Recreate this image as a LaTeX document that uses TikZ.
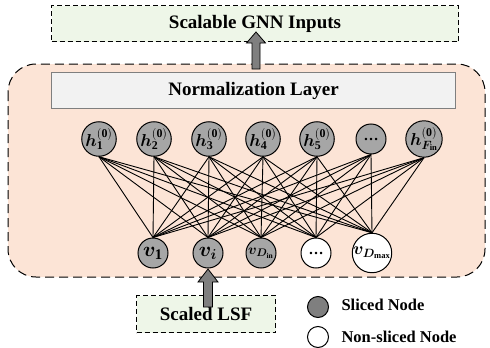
\documentclass[tikz,border=0pt]{standalone}
\usepackage{fontspec}
\usepackage{bm}
\setmainfont{Liberation Serif}
\definecolor{peach}{HTML}{FCE4D6}
\definecolor{mint}{HTML}{EEF6E8}
\definecolor{panel}{HTML}{F2F2F2}
\definecolor{nodegray}{HTML}{A6A6A6}
\definecolor{darkgray}{HTML}{7F7F7F}
\tikzset{
  dashbox/.style={draw=black, dashed, dash pattern=on 5pt off 3pt, line width=1pt, fill=mint},
  neuron/.style={circle, draw=black, line width=1pt, minimum size=30pt, inner sep=0pt,
    fill=nodegray, font=\fontsize{17}{18}\selectfont},
  emptyneuron/.style={neuron, fill=white},
  link/.style={line width=0.9pt},
  blockarrow/.style={draw=black, line width=0.8pt, fill=darkgray},
  lbl/.style={font=\bfseries\fontsize{19}{21}\selectfont},
  legendlbl/.style={anchor=west, font=\bfseries\fontsize{16.5}{18}\selectfont},
}
\begin{document}
\begin{tikzpicture}[x=1pt, y=-1pt]
\useasboundingbox (0,0) rectangle (490,348);
% outer frame
\draw[dashed, dash pattern=on 9pt off 5pt, line width=1pt, fill=peach, rounded corners=28pt]
  (8,64) rectangle (485,277);
% top output box
\node[dashbox, minimum width=407pt, minimum height=36pt, anchor=north west, lbl]
  (out) at (51,5) {Scalable GNN Inputs};
% normalization layer
\node[draw=darkgray, line width=1pt, fill=panel, minimum width=404pt, minimum height=36pt,
  anchor=north west, lbl] (norm) at (51,72) {Normalization Layer};
% feature nodes
\node[neuron] (h1) at (99,139) {$\bm{h}^{(\mathbf{0})}_{\mathbf{1}}$};
\node[neuron] (h2) at (154,139) {$\bm{h}^{(\mathbf{0})}_{\mathbf{2}}$};
\node[neuron] (h3) at (209,139) {$\bm{h}^{(\mathbf{0})}_{\mathbf{3}}$};
\node[neuron] (h4) at (263,139) {$\bm{h}^{(\mathbf{0})}_{\mathbf{4}}$};
\node[neuron] (h5) at (317,139) {$\bm{h}^{(\mathbf{0})}_{\mathbf{5}}$};
\node[neuron] (h6) at (371,139) {\bfseries\fontsize{15}{16}\selectfont\dots};
\node[neuron] (h7) at (424,139) {$\bm{h}^{(\mathbf{0})}_{\bm{F}_{\mathbf{in}}}$};
% sliced / non-sliced nodes
\node[neuron] (v1) at (153,253) {\fontsize{21}{22}\selectfont$\bm{v}_{\mathbf{1}}$};
\node[neuron] (v2) at (208,253) {\fontsize{21}{22}\selectfont$\bm{v}_{\bm{i}}$};
\node[neuron] (v3) at (261,253) {\fontsize{15}{16}\selectfont$\bm{v}_{\bm{D}_{\mathbf{in}}}$};
\node[emptyneuron] (v4) at (316,253) {\bfseries\fontsize{15}{16}\selectfont\dots};
\node[emptyneuron] (v5) at (372,253) {\fontsize{17}{18}\selectfont$\bm{v}_{\bm{D}_{\mathbf{max}}}$};
% full bipartite connections
\foreach \a in {1,...,7}
  \foreach \b in {1,...,5}
    \draw[link] (h\a.south) -- (v\b.north);
% input box
\node[dashbox, minimum width=139pt, minimum height=37pt, anchor=north west, lbl]
  (lsf) at (136,295) {Scaled LSF};
% block arrows (tail point of each)
\coordinate (a1) at (256,69);
\coordinate (a2) at (208,307);
\draw[blockarrow, shift={(a1)}]
  (-4,0) -- (-4,-26) -- (-9.5,-26) -- (0,-37) -- (9.5,-26) -- (4,-26) -- (4,0) -- cycle;
\draw[blockarrow, shift={(a2)}]
  (-4.5,0) -- (-4.5,-25) -- (-10,-25) -- (0,-38) -- (10,-25) -- (4.5,-25) -- (4.5,0) -- cycle;
% legend
\node[neuron, fill=darkgray, minimum size=21pt] (ls) at (318,307) {};
\node[legendlbl] (lst) at (338,305) {Sliced Node};
\node[emptyneuron, minimum size=21pt] (ln) at (318,337) {};
\node[legendlbl] (lnt) at (338,337) {Non-sliced Node};
\end{tikzpicture}
\end{document}
